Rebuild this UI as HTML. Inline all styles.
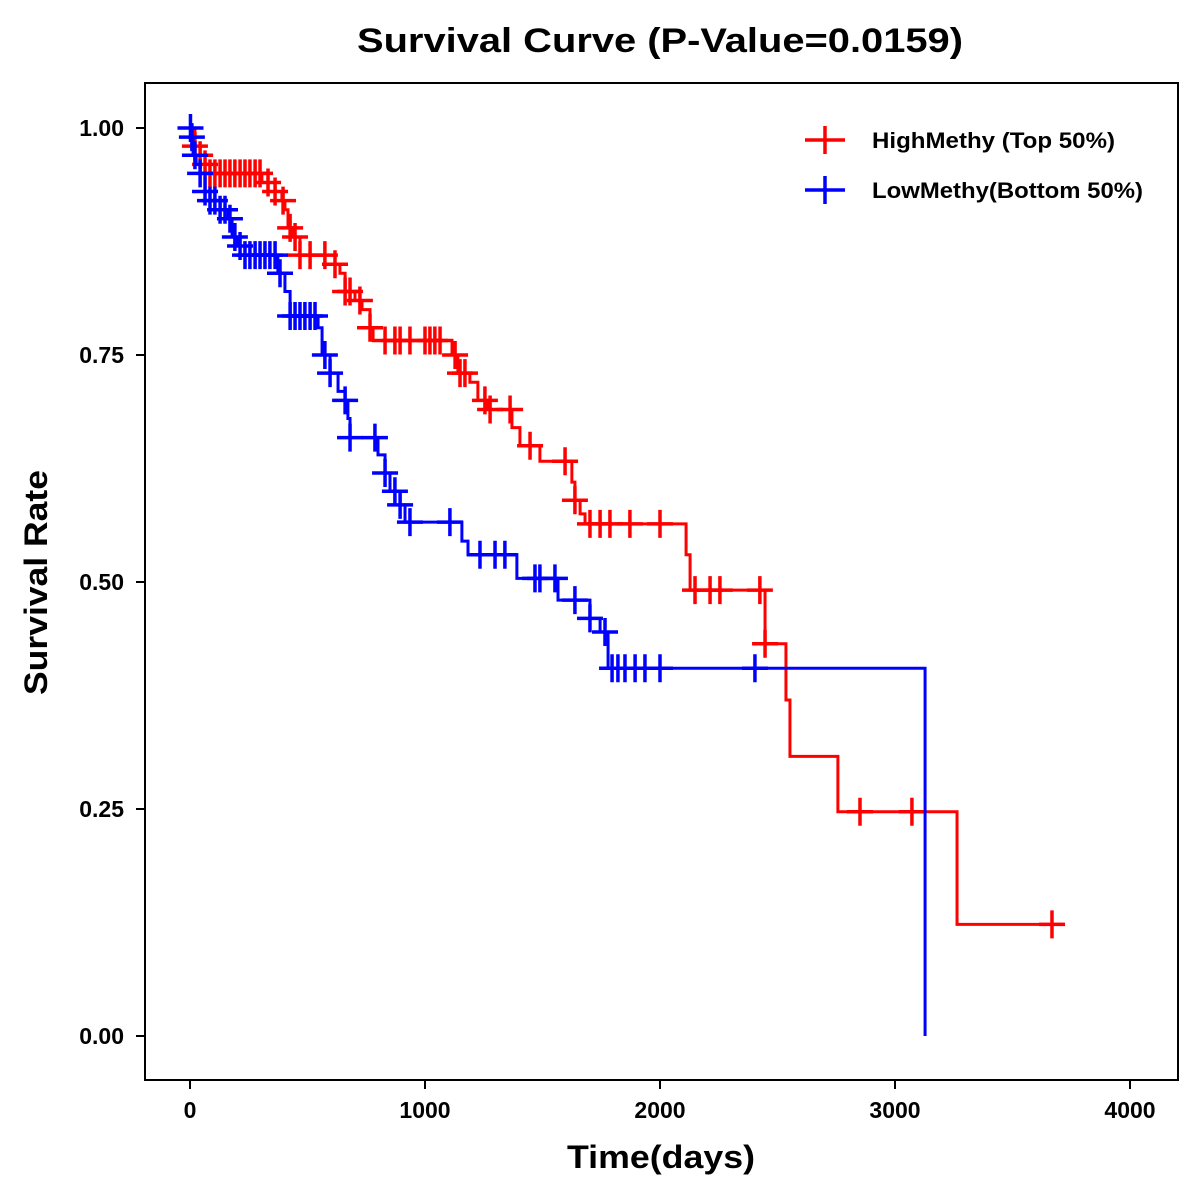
<!DOCTYPE html>
<html><head><meta charset="utf-8"><style>
html,body{margin:0;padding:0;background:#fff}
svg{display:block;font-family:"Liberation Sans",Arial,sans-serif}
</style></head><body>
<svg id="chart" width="1200" height="1200" viewBox="0 0 1200 1200">
<rect x="0" y="0" width="1200" height="1200" fill="#fff"/>
<text x="357" y="52" font-size="34" font-weight="bold" textLength="606" lengthAdjust="spacingAndGlyphs">Survival Curve (P-Value=0.0159)</text>
<rect x="145" y="83" width="1033" height="997" fill="none" stroke="#000" stroke-width="2"/>
<g id="axes"></g>
<g id="series"></g>
<text x="567" y="1168" font-size="32" font-weight="bold" textLength="188" lengthAdjust="spacingAndGlyphs">Time(days)</text>
<text x="0" y="0" font-size="32" font-weight="bold" textLength="225" lengthAdjust="spacingAndGlyphs" transform="translate(47 695) rotate(-90)">Survival Rate</text>
<g>
<g>
<line x1="805" y1="140" x2="845" y2="140" stroke="#f00" stroke-width="3.5"/>
<line x1="825" y1="126" x2="825" y2="154" stroke="#f00" stroke-width="3.5"/>
<text x="872" y="148" font-size="22" font-weight="bold" textLength="243" lengthAdjust="spacingAndGlyphs">HighMethy (Top 50%)</text>
</g>
<g>
<line x1="805" y1="190" x2="845" y2="190" stroke="#00f" stroke-width="3.5"/>
<line x1="825" y1="176" x2="825" y2="204" stroke="#00f" stroke-width="3.5"/>
<text x="872" y="198" font-size="22" font-weight="bold" textLength="271" lengthAdjust="spacingAndGlyphs">LowMethy(Bottom 50%)</text>
</g>
</g>
</svg>
<script>
const xTicks=[0,1000,2000,3000,4000];
const yTicks=[0,0.25,0.5,0.75,1];
const yTickLabels=["0.00","0.25","0.50","0.75","1.00"];
const highTimes=[21,43,64,85,306,362,391,404,417,434,468,617,638,660,702,732,766,779,1115,1140,1191,1225,1268,1370,1404,1489,1625,1638,1660,1681,2111,2128,2447,2536,2553,2757,3264];
const highSurv=[0.98,0.97,0.96,0.95,0.94,0.93,0.92,0.91,0.89,0.88,0.86,0.85,0.84,0.82,0.81,0.80,0.78,0.766,0.75,0.73,0.72,0.70,0.69,0.67,0.65,0.633,0.61,0.59,0.575,0.564,0.53,0.491,0.432,0.37,0.308,0.247,0.123];
const highEnd=3723;
const highCensor=[21,43,64,85,106,128,149,170,191,213,234,255,277,298,332,362,396,426,447,468,511,574,617,660,681,723,766,830,872,894,936,1000,1021,1042,1064,1128,1149,1170,1255,1277,1362,1447,1596,1638,1702,1745,1787,1872,2000,2149,2213,2255,2425,2447,2851,3072,3668];
const lowTimes=[3,13,26,43,64,85,128,162,179,204,234,374,404,426,545,562,596,630,660,672,681,800,830,851,894,915,1157,1183,1391,1566,1702,1745,1779,3128];
const lowSurv=[0.99,0.97,0.96,0.95,0.93,0.92,0.91,0.90,0.88,0.87,0.86,0.84,0.82,0.793,0.78,0.75,0.73,0.71,0.70,0.68,0.659,0.64,0.62,0.60,0.585,0.566,0.545,0.53,0.504,0.48,0.46,0.445,0.405,0];
const lowEnd=3128;
const lowCensor=[2,8,21,43,64,85,106,128,149,170,191,213,234,255,277,298,319,340,362,383,426,447,468,489,511,532,574,596,660,681,787,830,872,894,936,1106,1234,1298,1340,1468,1489,1553,1638,1702,1766,1796,1821,1851,1894,1936,2000,2404];

const NS="http://www.w3.org/2000/svg";
const xs=d=>190+d*0.235;
const ys=v=>1036-v*908;
function mk(tag,attrs,parent){const e=document.createElementNS(NS,tag);for(const k in attrs)e.setAttribute(k,attrs[k]);parent.appendChild(e);return e;}
const axes=document.getElementById('axes');
xTicks.forEach(t=>{
  const l=mk('line',{x1:xs(t),x2:xs(t),y1:1080,y2:1089,stroke:'#000','stroke-width':2},axes);
  
  
  const tx=mk('text',{x:xs(t),y:1118,'text-anchor':'middle','font-size':23,'font-weight':'bold'},axes);
  tx.textContent=String(t);
  
  
});
yTicks.forEach((t,i)=>{
  const l=mk('line',{x1:136,x2:145,y1:ys(t),y2:ys(t),stroke:'#000','stroke-width':2},axes);
  
  
  const tx=mk('text',{x:124,y:ys(t)+8,'text-anchor':'end','font-size':23,'font-weight':'bold'},axes);
  tx.textContent=yTickLabels[i];
  
  
});
function survAt(times,surv,t){let s=1;for(let i=0;i<times.length;i++){if(times[i]<=t)s=surv[i];}return s;}
const series=document.getElementById('series');
function drawSeries(times,surv,end,censor,color,name){
  const g=mk('g',{},series);
  
  
  let d='M'+xs(0)+','+ys(1);
  for(let i=0;i<times.length;i++){d+=' H'+xs(times[i])+' V'+ys(surv[i]);}
  d+=' H'+xs(end);
  const p=mk('path',{d:d,fill:'none',stroke:color,'stroke-width':3},g);
  
  
  censor.forEach(t=>{
    const x=xs(t),y=ys(survAt(times,surv,t));
    const c=mk('path',{d:`M${x-13},${y} H${x+13} M${x},${y-14} V${y+14}`,stroke:color,'stroke-width':3.5,fill:'none'},g);
    
    
  });
}
drawSeries(highTimes,highSurv,highEnd,highCensor,'#f00','high-methy');
drawSeries(lowTimes,lowSurv,lowEnd,lowCensor,'#00f','low-methy');
</script>
</body></html>
